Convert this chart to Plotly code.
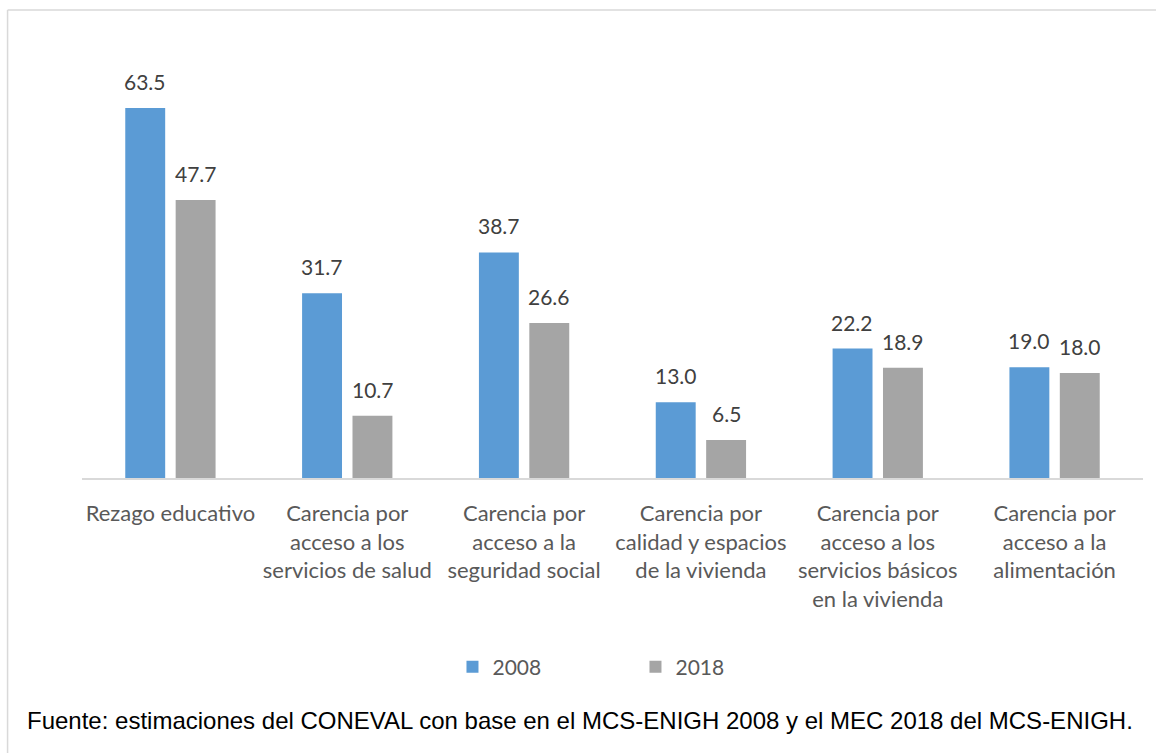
import plotly.graph_objects as go

categories = [
    "Rezago educativo",
    "Carencia por<br>acceso a los<br>servicios de salud",
    "Carencia por<br>acceso a la<br>seguridad social",
    "Carencia por<br>calidad y espacios<br>de la vivienda",
    "Carencia por<br>acceso a los<br>servicios básicos<br>en la vivienda",
    "Carencia por<br>acceso a la<br>alimentación",
]
values_2008 = [63.5, 31.7, 38.7, 13.0, 22.2, 19.0]
values_2018 = [47.7, 10.7, 26.6, 6.5, 18.9, 18.0]
series_names = ["2008", "2018"]
series_colors = ["#5B9BD5", "#A5A5A5"]
source_text = "Fuente: estimaciones del CONEVAL con base en el MCS-ENIGH 2008 y el MEC 2018 del MCS-ENIGH."

FONT = "Lato, 'Open Sans', sans-serif"
W, H = 1156, 753
ML, MR, MT, MB = 81.5, 12.5, 70, 275
PW, PH = W - ML - MR, H - MT - MB


def px_x(x):
    return (x - ML) / PW


def px_y(y):
    return (H - MB - y) / PH


fig = go.Figure()
for name, vals, col in zip(series_names, [values_2008, values_2018], series_colors):
    fig.add_trace(go.Bar(name=name, x=categories, y=vals, marker_color=col,
                         marker_line_width=0))

# data labels above each bar
for vals, shift in [(values_2008, -25.3), (values_2018, 25.3)]:
    for c, v in zip(categories, vals):
        fig.add_annotation(x=c, y=v, xref="x", yref="y", text=f"{v:.1f}",
                           showarrow=False, xshift=shift, yshift=12,
                           yanchor="bottom",
                           font=dict(family=FONT, size=21, color="#404040"))

fig.update_layout(
    width=W, height=H,
    margin=dict(l=ML, r=MR, t=MT, b=MB),
    paper_bgcolor="white", plot_bgcolor="white",
    barmode="group", bargap=0.43, bargroupgap=0.208,
    font=dict(family=FONT, color="#595959", size=22),
    showlegend=True,
    legend=dict(
        orientation="h", x=0.5 + 23 / PW, xanchor="center", y=px_y(667), yanchor="middle",
        font=dict(family=FONT, size=21, color="#595959"),
        entrywidth=138, entrywidthmode="pixels",
        itemclick=False, itemdoubleclick=False,
    ),
    xaxis=dict(
        showline=True, linecolor="#D9D9D9", linewidth=1.5,
        ticks="", showgrid=False, ticklabelstandoff=15,
        tickfont=dict(family=FONT, size=22, color="#595959"),
    ),
    yaxis=dict(range=[0, 70], visible=False, showgrid=False, zeroline=False),
)

# outer chart border (top and left edges visible in the reference)
fig.add_shape(type="line", xref="paper", yref="paper",
              x0=px_x(7), x1=px_x(W + 5), y0=px_y(10), y1=px_y(10),
              line=dict(color="#D9D9D9", width=1.5))
fig.add_shape(type="line", xref="paper", yref="paper",
              x0=px_x(7), x1=px_x(7), y0=px_y(10), y1=px_y(H + 5),
              line=dict(color="#D9D9D9", width=1.5))

fig.add_annotation(
    text=source_text, xref="paper", yref="paper",
    x=px_x(25), xanchor="left", y=px_y(720), yanchor="middle",
    showarrow=False, borderpad=0,
    font=dict(family="Liberation Sans, Arial, sans-serif", size=24, color="#000000"),
)

fig.write_html("out.html", config={"displayModeBar": False},
               post_script="document.body.style.margin='0';document.body.style.overflow='hidden';")
